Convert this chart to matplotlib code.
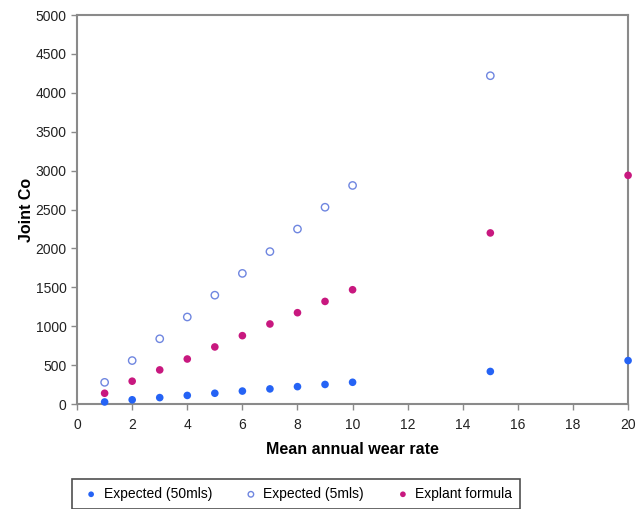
import matplotlib.pyplot as plt

# Values
wear_rate = [1, 2, 3, 4, 5, 6, 7, 8, 9, 10, 15, 20]
expected_50mls = [28, 56, 84, 112, 140, 168, 196, 225, 253, 281, 420, 560]
expected_5mls = [280, 560, 840, 1120, 1400, 1680, 1960, 2250, 2530, 2810, 4220, 5620]
explant_formula = [140, 295, 440, 580, 735, 880, 1030, 1175, 1320, 1470, 2200, 2940]

plt.rcParams['font.family'] = ['Liberation Sans', 'DejaVu Sans']

fig = plt.figure(figsize=(6.37, 5.09), dpi=100)
ax = fig.add_axes([0.121, 0.206, 0.865, 0.7645])

ax.scatter(wear_rate, expected_50mls, s=30, color='#2563f5', edgecolors='none',
           label='Expected (50mls)', clip_on=False, zorder=3)
ax.scatter(wear_rate[:-1], expected_5mls[:-1], s=28, facecolors='none',
           edgecolors='#6f86e0', linewidths=1.0, label='Expected (5mls)',
           clip_on=False, zorder=3)
ax.scatter(wear_rate, explant_formula, s=30, color='#c8187f', edgecolors='none',
           label='Explant formula', clip_on=False, zorder=3)

ax.set_xlim(0, 20)
ax.set_ylim(0, 5000)
ax.set_xticks(range(0, 21, 2))
ax.set_yticks(range(0, 5001, 500))

for s in ax.spines.values():
    s.set_color('#8a8a8a')
    s.set_linewidth(1.5)
ax.tick_params(axis='both', colors='#8a8a8a', labelcolor='#222222',
               labelsize=10, length=4, width=1)
ax.tick_params(axis='x', pad=6)

ax.set_xlabel('Mean annual wear rate', fontsize=11.5, fontweight='bold', labelpad=7)
ax.set_ylabel('Joint Co', fontsize=11.5, fontweight='bold', labelpad=1)

leg = fig.legend(loc='upper center', bbox_to_anchor=(0.465, 0.072), ncol=3,
                 fontsize=10, frameon=True, fancybox=False, edgecolor='#222222',
                 handletextpad=0.1, columnspacing=2.0, borderpad=0.55,
                 handlelength=1.6, markerscale=0.75)
leg.get_frame().set_linewidth(1.2)

plt.savefig('out.png', dpi=100)
